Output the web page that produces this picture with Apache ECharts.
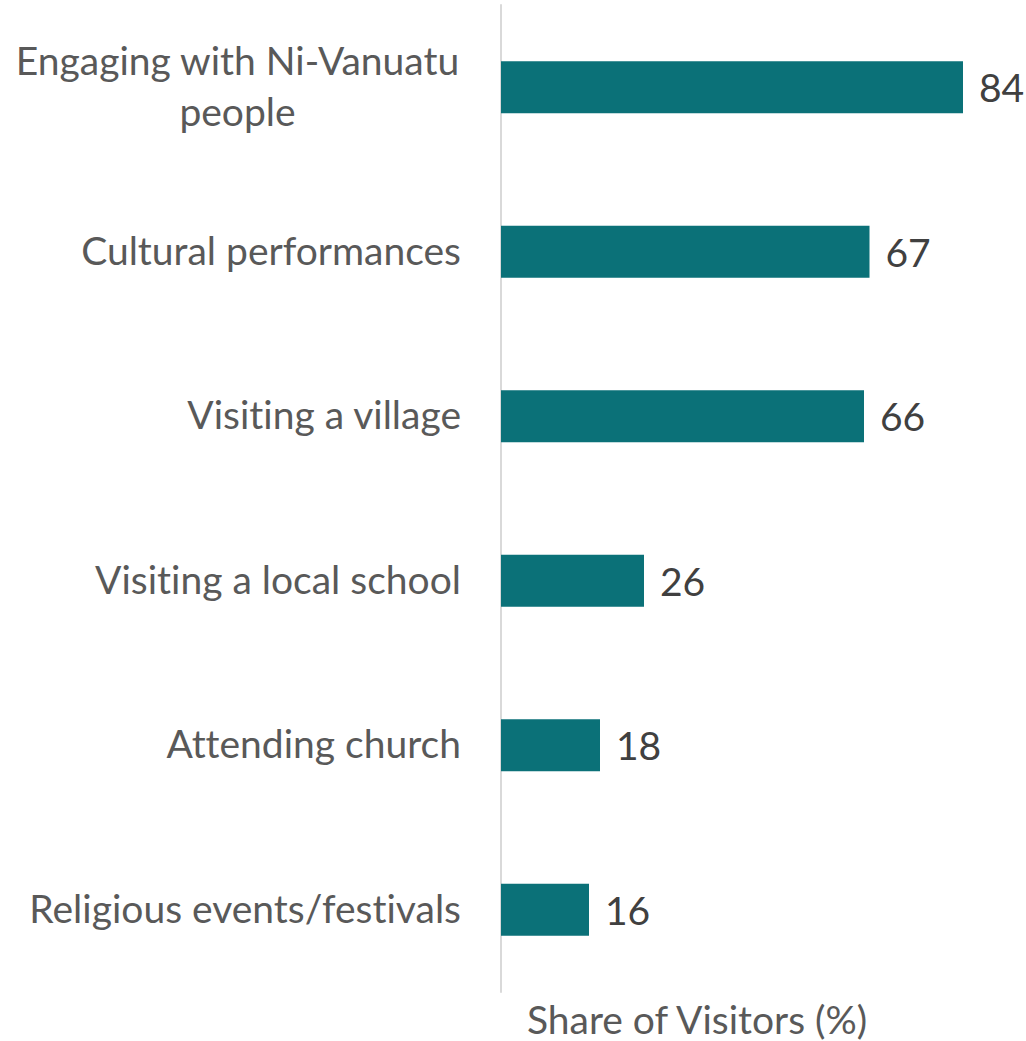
<!DOCTYPE html>
<html>
<head>
<meta charset="utf-8">
<script src="https://cdn.jsdelivr.net/npm/echarts@6/dist/echarts.min.js"></script>
<style>
  html, body { margin: 0; padding: 0; background: #ffffff; }
  #chart { width: 1026px; height: 1041px; }
  #chart text, #chart tspan { font-variant-ligatures: none !important; font-feature-settings: "liga" 0, "clig" 0 !important; }
</style>
</head>
<body>
<div id="chart"></div>
<script>
// Activities undertaken by visitors, top to bottom
const categories = [
  'Engaging with Ni-Vanuatu\npeople',
  'Cultural performances',
  'Visiting a village',
  'Visiting a local school',
  'Attending church',
  'Religious events/festivals'
];
const shareValues = [84, 67, 66, 26, 18, 16];
const axisTitle = 'Share of Visitors (%)';

const FONT = 'Lato, "Open Sans", sans-serif';
const FONT_SIZE = 39;
const chart = echarts.init(document.getElementById('chart'), null, { renderer: 'svg' });

chart.setOption({
  animation: false,
  backgroundColor: '#ffffff',
  title: {
    text: axisTitle,
    left: 697,
    top: 999,
    padding: 0,
    textAlign: 'center',
    textStyle: { fontFamily: FONT, fontSize: FONT_SIZE, lineHeight: 40, fontWeight: 'normal', color: '#595959' }
  },
  grid: { left: 501, right: 30, top: 5, bottom: 49, containLabel: false },
  xAxis: {
    type: 'value',
    min: 0,
    max: 90,
    show: false
  },
  yAxis: {
    type: 'category',
    inverse: true,
    data: categories,
    axisLine: { show: true, lineStyle: { color: '#d9d9d9', width: 2 } },
    axisTick: { show: false },
    splitLine: { show: false },
    axisLabel: {
      margin: 40,
      fontFamily: FONT,
      fontSize: FONT_SIZE,
      lineHeight: 51,
      color: '#595959',
      align: 'right',
      padding: [0, 0, 4, 0],
      // wrapped labels are centred line by line inside a box as wide as the longest line
      formatter: function (value) {
        return value.indexOf('\n') >= 0
          ? value.split('\n').map(function (line) { return '{wrap|' + line + '}'; }).join('\n')
          : value;
      },
      rich: {
        wrap: {
          fontFamily: FONT,
          fontSize: FONT_SIZE,
          lineHeight: 51,
          color: '#595959',
          width: 447,
          align: 'center'
        }
      }
    }
  },
  series: [{
    type: 'bar',
    data: shareValues,
    barWidth: 52,
    itemStyle: { color: '#0b7178' },
    label: {
      show: true,
      position: 'right',
      distance: 16,
      fontFamily: FONT,
      fontSize: FONT_SIZE,
      color: '#404040'
    }
  }]
});
</script>
</body>
</html>
